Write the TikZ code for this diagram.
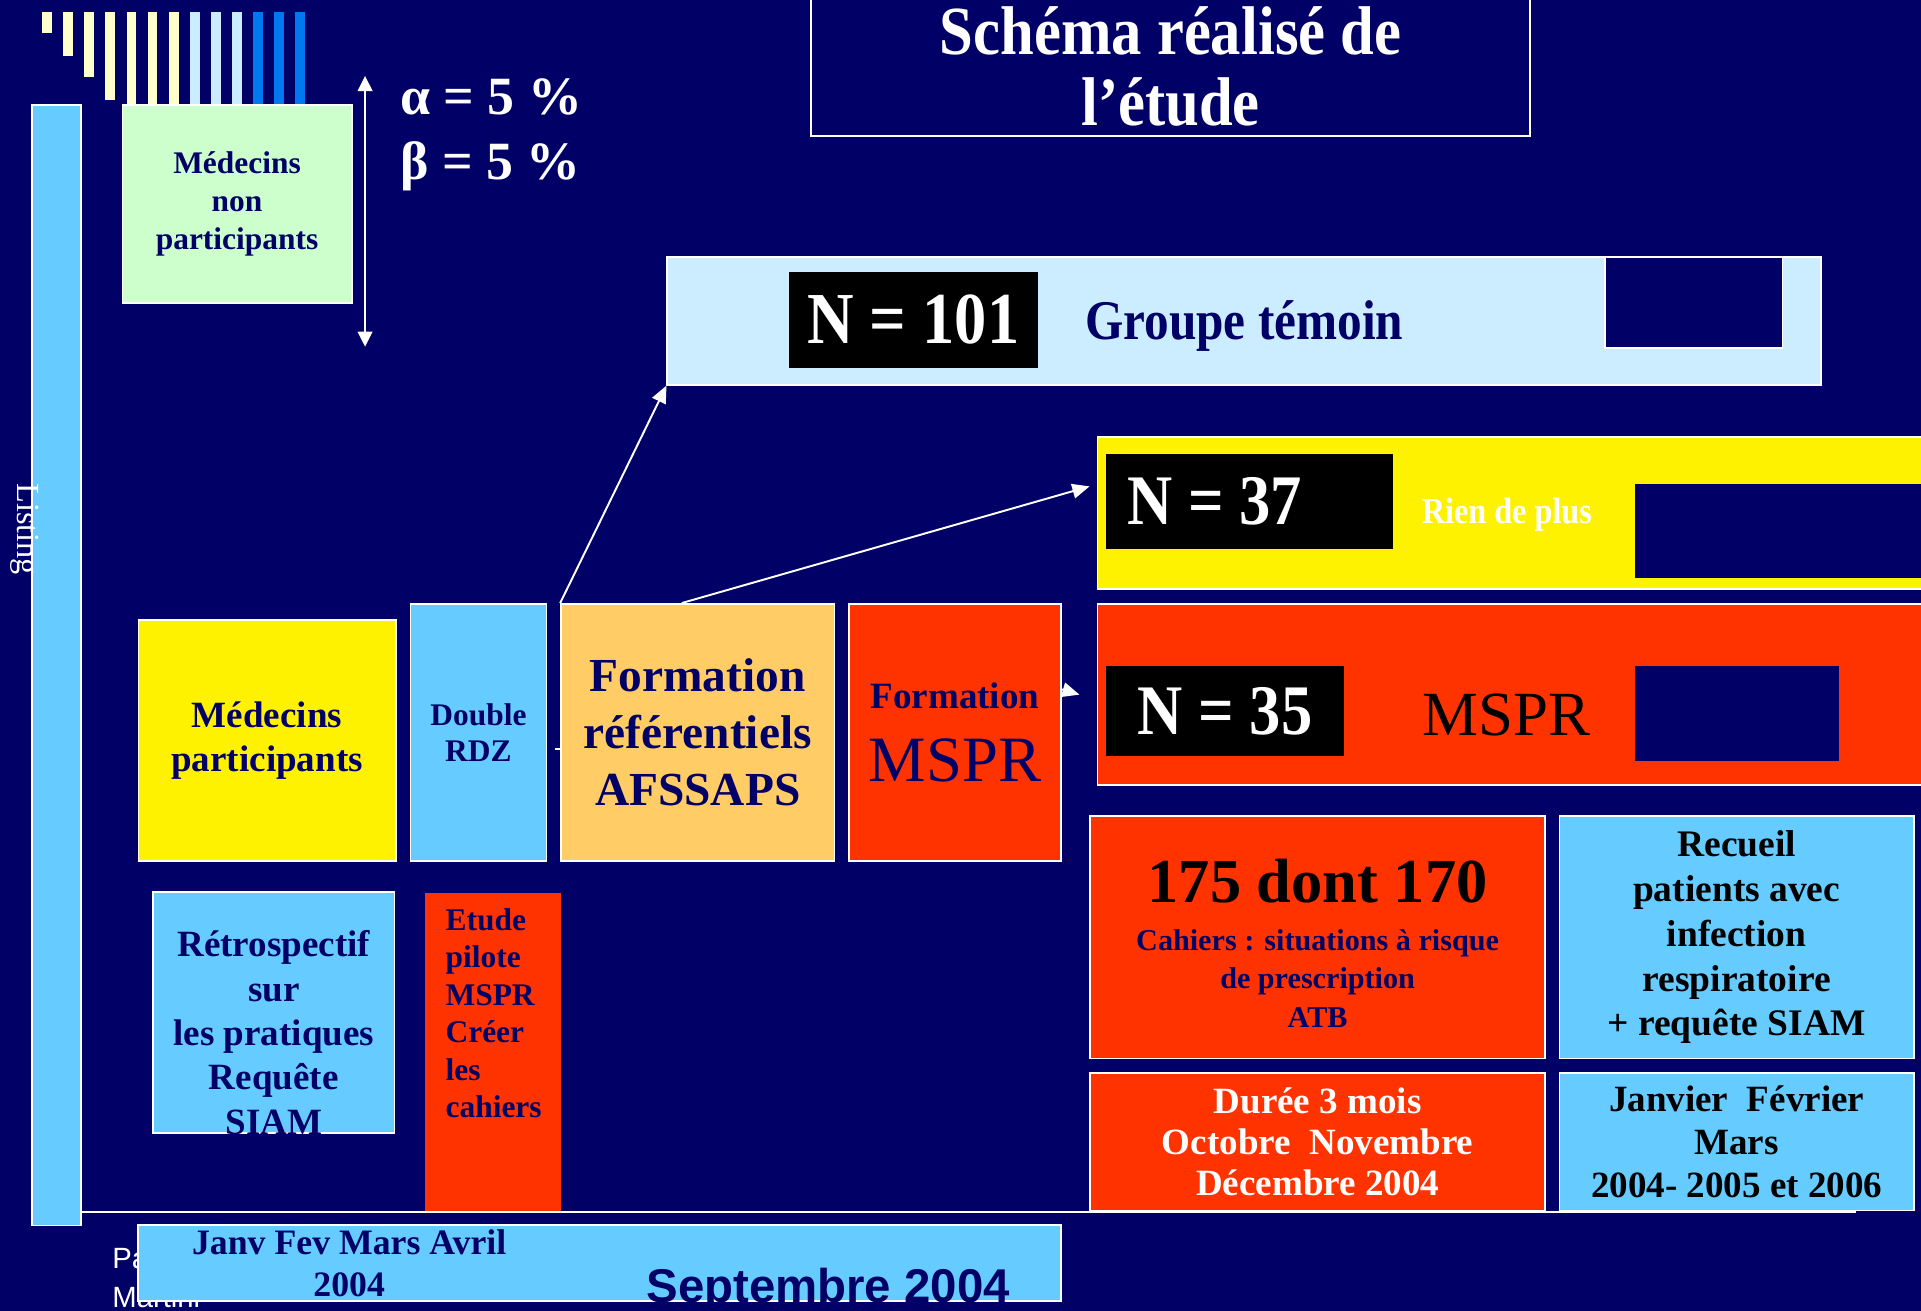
\documentclass[tikz,border=0pt]{standalone}
\usepackage{fontspec}
\setmainfont{Liberation Serif}
\setsansfont{Liberation Sans}
\newfontfamily\narrowserif{Liberation Serif}[FakeStretch=0.88]
\definecolor{SlideNavy} {RGB}{0,0,102}
\definecolor{SkyBox}    {RGB}{102,204,255}
\definecolor{PaleBlue}  {RGB}{204,236,255}
\definecolor{MintBox}   {RGB}{204,255,204}
\definecolor{TomatoBox} {RGB}{255,51,0}
\definecolor{PeachBox}  {RGB}{255,204,102}
\definecolor{CreamBar}  {RGB}{255,255,204}
\definecolor{VividBlue} {RGB}{0,120,240}
\usetikzlibrary{arrows.meta,positioning,calc}

\begin{document}
\begin{tikzpicture}[x=0.01cm,y=-0.01cm,
  box/.style={draw=white,line width=0.4pt,inner sep=0pt,align=center,
              text=SlideNavy,font=\bfseries},
  nbox/.style={fill=black,inner sep=0pt,text=white,
               font=\narrowserif\fontsize{16.5}{18}\selectfont\bfseries},
  mask/.style={fill=SlideNavy,inner sep=0pt},
  arr/.style={-{Triangle[length=4pt,width=3.4pt]},white,line width=0.45pt}]
  \useasboundingbox (0,0) rectangle (1568,1070);
  \fill[SlideNavy] (0,0) rectangle (1568,1070);

  % stripes top left
  \foreach \i/\bot/\col in {0/27/CreamBar,1/46/CreamBar,2/63/CreamBar,
      3/82/CreamBar,4/86/CreamBar,5/86/CreamBar,6/86/CreamBar,
      7/86/PaleBlue,8/86/PaleBlue,9/86/PaleBlue,
      10/86/VividBlue,11/86/VividBlue,12/86/VividBlue}
    \fill[\col] (34.5+17.2*\i,10) rectangle (42.5+17.2*\i,\bot);

  % title
  \node[draw=white,line width=0.5pt,minimum width=5.87cm,
        minimum height=1.14cm,align=center,inner sep=0pt,text=white,
        font=\narrowserif\fontsize{16}{16.5}\selectfont\bfseries]
        (Title) at (955.5,54) {Schéma réalisé de\\l’étude};

  % listing + time line
  \node[box,fill=SkyBox,minimum width=0.40cm,minimum height=9.14cm]
        (Listing) at (46,543) {};
  \node[rotate=-90,text=white,inner sep=0pt,
        font=\fontsize{7.5}{9}\selectfont] (ListingTxt) at (20,432) {Listing};
  \coordinate (lineEnd) at (1515,989);
  \draw[white,line width=0.5pt] (Listing.east |- lineEnd) -- (lineEnd);

  \node[anchor=north west,align=left,inner sep=0pt,text=white,
        font=\sffamily\fontsize{6.8}{9.1}\selectfont]
        (Author) at (91,1018) {Pa\\Martini};
  \node[box,fill=SkyBox,minimum width=7.53cm,minimum height=0.62cm]
        (Months) at (489.5,1031) {};
  \node[align=center,inner sep=0pt,text=SlideNavy,
        font=\fontsize{8.3}{9.6}\selectfont\bfseries]
        (MonthsTxt) at (285,1031) {Janv Fev Mars Avril\\2004};
  \node[anchor=base,inner sep=0pt,text=SlideNavy,
        font=\sffamily\fontsize{11}{13}\selectfont\bfseries]
        (Sept) at (676,1063) {Septembre 2004};

  % non participants
  \node[box,fill=MintBox,minimum width=1.87cm,minimum height=1.61cm,
        font=\fontsize{7.3}{8.8}\selectfont\bfseries]
        (NonPart) at (193.5,166.5) {Médecins\\non\\participants};
  \coordinate (powTop) at (298,62);
  \coordinate (powBot) at (298,283);
  \draw[{Triangle[length=3.5pt,width=3.4pt]}-{Triangle[length=3.5pt,width=3.4pt]},
        white,line width=0.45pt] (powTop) -- (powBot);
  \node[anchor=west,align=left,inner sep=0pt,text=white,
        font=\fontsize{12.5}{15}\selectfont\bfseries]
        (Risks) at (326,110) {α = 5 \%\\β = 5 \%};

  % groups
  \node[box,fill=PaleBlue,minimum width=9.41cm,minimum height=1.04cm,
        font=\narrowserif\fontsize{13}{15}\selectfont\bfseries]
        (Groupe) at (1015.5,262) {\rule{0pt}{11.5pt}Groupe témoin};
  \node[nbox,minimum width=2.03cm,minimum height=0.78cm,
        font=\narrowserif\fontsize{17}{19}\selectfont\bfseries]
        (N101) at (745.5,261) {N = 101};
  \node[mask,draw=white,line width=0.4pt,minimum width=1.45cm,
        minimum height=0.74cm] (GroupeMask) at (1382.5,247) {};

  \node[box,fill=yellow,minimum width=6.74cm,minimum height=1.24cm]
        (Yel) at (1233,419) {};
  \node[nbox,minimum width=2.34cm,minimum height=0.77cm]
        (N37) at (1020,409.5) {N = 37\hspace*{0.57cm}};
  \node[text=white,inner sep=0pt,
        font=\narrowserif\fontsize{8.5}{10}\selectfont\bfseries]
        (Rien) at (1230,420) {Rien de plus};
  \node[mask,minimum width=2.35cm,minimum height=0.77cm]
        (YelMask) at (1452.5,433.5) {};

  \node[box,fill=TomatoBox,minimum width=6.74cm,minimum height=1.48cm]
        (RedGrp) at (1233,567) {};
  \node[nbox,minimum width=1.94cm,minimum height=0.73cm]
        (N35) at (1000,580.5) {N = 35};
  \node[text=black,inner sep=0pt,font=\fontsize{14.6}{17}\selectfont]
        (MSPRgrp) at (1230,584) {MSPR};
  \node[mask,minimum width=1.66cm,minimum height=0.77cm]
        (RedMask) at (1418,582.5) {};

  % participants row
  \node[box,fill=yellow,minimum width=2.10cm,minimum height=1.97cm,
        font=\fontsize{8.6}{10.2}\selectfont\bfseries]
        (Part) at (218,604.5) {Médecins\\participants};
  \node[box,fill=SkyBox,minimum width=1.11cm,minimum height=2.10cm,
        font=\fontsize{7.3}{8.3}\selectfont\bfseries]
        (RDZ) at (390.5,598) {Double\\RDZ};
  \node[box,fill=PeachBox,minimum width=2.23cm,minimum height=2.10cm,
        font=\fontsize{11}{13.2}\selectfont\bfseries]
        (FormRef) at (569.5,598) {Formation\\référentiels\\AFSSAPS};
  \node[box,fill=TomatoBox,minimum width=1.73cm,minimum height=2.10cm,
        font=\fontsize{8.6}{10}\selectfont\bfseries]
        (FormMSPR) at (779.5,598)
        {Formation\\[6pt]{\fontsize{15}{17}\selectfont\mdseries MSPR}};

  \draw[white,line width=0.45pt] ($(RDZ.east)+(6,13)$) -- ($(FormRef.west)+(0,13)$);
  \draw[arr] (FormRef.north west) -- (Groupe.south west);
  \draw[arr,shorten >=1.7pt] (FormRef.97) -- (Yel.176);
  \draw[arr] (FormMSPR.22) -- ($(RedGrp.west)+(-14,0)$);

  % lower boxes
  \node[box,fill=SkyBox,minimum width=1.97cm,minimum height=1.97cm]
        (Retro) at (223.5,826.5) {};
  \node[anchor=north,align=center,inner sep=0pt,text=SlideNavy,
        font=\fontsize{8.6}{10.3}\selectfont\bfseries]
        (RetroTxt) at (223.5,759)
        {Rétrospectif\\sur\\les pratiques\\Requête\\SIAM};
  \node[fill=TomatoBox,minimum width=1.11cm,minimum height=2.59cm,inner sep=0pt]
        (Pilot) at (402.5,858.5) {};
  \node[anchor=north west,align=left,inner sep=0pt,text=SlideNavy,
        font=\fontsize{7.3}{8.7}\selectfont\bfseries]
        (PilotTxt) at (363,741) {Etude\\pilote\\MSPR\\Créer\\les\\cahiers};

  \node[box,fill=TomatoBox,minimum width=3.71cm,minimum height=1.98cm,
        font=\fontsize{7}{9}\selectfont\bfseries] (Cahiers) at (1075.5,765)
        {{\fontsize{14.5}{17}\selectfont\color{black}\rule{0pt}{13pt}175 dont 170}\\[2pt]
         Cahiers : situations à risque\\de prescription\\ATB};
  \node[box,fill=SkyBox,minimum width=2.89cm,minimum height=1.98cm,
        text=black,font=\fontsize{8.7}{10.4}\selectfont\bfseries]
        (Recueil) at (1417.5,765)
        {Recueil\\patients avec\\infection\\respiratoire\\+ requête SIAM};
  \node[box,fill=TomatoBox,minimum width=3.71cm,minimum height=1.12cm,
        text=white,font=\fontsize{8.6}{9.5}\selectfont\bfseries]
        (Duree) at (1075.5,932)
        {Durée 3 mois\\Octobre\ \ Novembre\\Décembre 2004};
  \node[box,fill=SkyBox,minimum width=2.89cm,minimum height=1.12cm,
        text=black,font=\fontsize{8.6}{10}\selectfont\bfseries]
        (Periode) at (1417.5,932)
        {Janvier\ \ Février\\Mars\\2004- 2005 et 2006};
\end{tikzpicture}
\end{document}
